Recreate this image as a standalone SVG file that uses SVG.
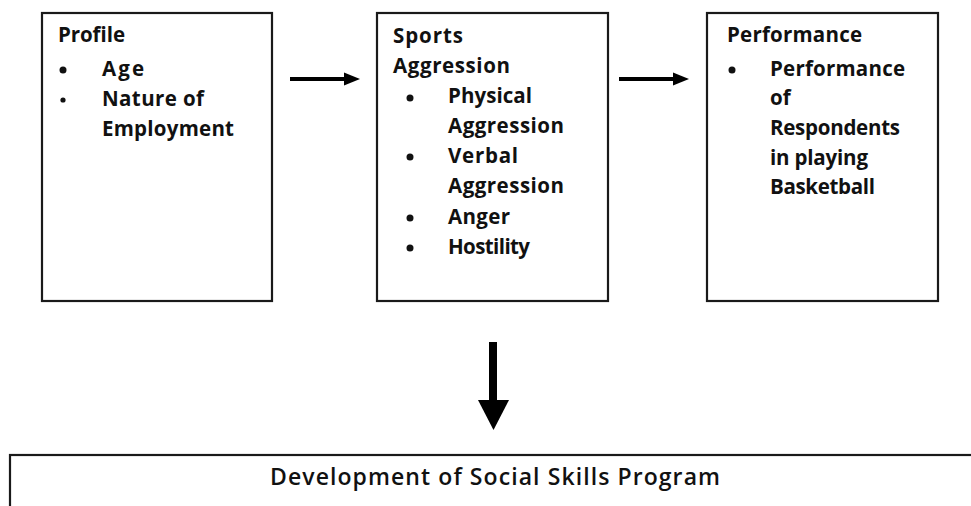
<svg xmlns="http://www.w3.org/2000/svg" width="971" height="506" viewBox="0 0 971 506">
  <style>
    .box { fill: #ffffff; stroke: #1a1a1a; stroke-width: 2.2; }
    .t { font-family: "Open Sans", "Liberation Sans", sans-serif; font-weight: 700; font-size: 20.5px; fill: #111111; }
    .reg { font-family: "Open Sans", "Liberation Sans", sans-serif; font-weight: 600; font-size: 23px; fill: #111111; }
    .dot { fill: #111111; }
    .shaft { stroke: #000000; fill: none; }
    .head { fill: #000000; }
  </style>
  <rect x="0" y="0" width="971" height="506" fill="#ffffff"/>

  <!-- Profile -->
  <g id="profile">
    <rect class="box" x="42" y="13" width="230" height="288"/>
    <text class="t" x="58" y="42" textLength="67">Profile</text>
    <circle class="dot" cx="63" cy="70" r="3.5"/>
    <text class="t" x="102" y="76" textLength="42">Age</text>
    <circle class="dot" cx="63" cy="100" r="2.6"/>
    <text class="t" x="102" y="106" textLength="102">Nature of</text>
    <text class="t" x="102" y="136" textLength="132">Employment</text>
  </g>

  <!-- Sports Aggression -->
  <g id="sports-aggression">
    <rect class="box" x="377" y="13" width="231" height="288"/>
    <text class="t" x="393" y="43" textLength="70">Sports</text>
    <text class="t" x="393" y="73" textLength="117">Aggression</text>
    <circle class="dot" cx="410" cy="98" r="3.5"/>
    <text class="t" x="448" y="103" textLength="84">Physical</text>
    <text class="t" x="448" y="133" textLength="116">Aggression</text>
    <circle class="dot" cx="410" cy="157" r="3.5"/>
    <text class="t" x="448" y="163" textLength="70">Verbal</text>
    <text class="t" x="448" y="193" textLength="116">Aggression</text>
    <circle class="dot" cx="410" cy="218" r="3.5"/>
    <text class="t" x="448" y="224" textLength="62">Anger</text>
    <circle class="dot" cx="410" cy="248" r="3.5"/>
    <text class="t" x="448" y="254" textLength="82">Hostility</text>
  </g>

  <!-- Performance -->
  <g id="performance">
    <rect class="box" x="707" y="13" width="231" height="288"/>
    <text class="t" x="727" y="42" textLength="135">Performance</text>
    <circle class="dot" cx="732" cy="70" r="3.5"/>
    <text class="t" x="770" y="76" textLength="135">Performance</text>
    <text class="t" x="770" y="105">of</text>
    <text class="t" x="770" y="135" textLength="130">Respondents</text>
    <text class="t" x="770" y="165" textLength="98">in playing</text>
    <text class="t" x="770" y="194" textLength="105">Basketball</text>
  </g>

  <!-- Development of Social Skills Program (box runs past the right edge) -->
  <g id="social-skills-program">
    <rect class="box" x="10" y="455" width="1100" height="100"/>
    <text class="reg" x="495" y="485" text-anchor="middle" textLength="450">Development of Social Skills Program</text>
  </g>

  <!-- Connectors -->
  <g id="connectors">
    <line class="shaft" x1="290" y1="79" x2="346" y2="79" stroke-width="4"/>
    <polygon class="head" points="344,72.5 360,79 344,85.5"/>
    <line class="shaft" x1="619" y1="79" x2="675" y2="79" stroke-width="4"/>
    <polygon class="head" points="673,72.5 689,79 673,85.5"/>
    <line class="shaft" x1="493" y1="342" x2="493" y2="402" stroke-width="8"/>
    <polygon class="head" points="478,400 509,400 493.5,430"/>
  </g>
</svg>
